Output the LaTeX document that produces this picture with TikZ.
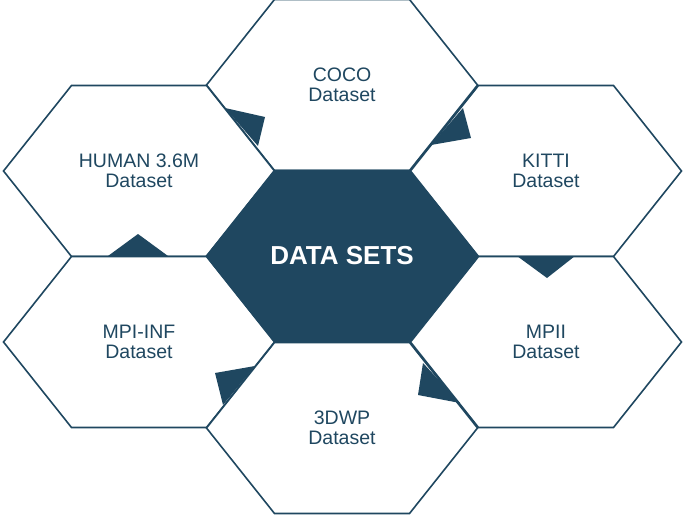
\documentclass[tikz,border=0pt]{standalone}
\usepackage{fontspec}
\setmainfont{Liberation Sans}
\definecolor{navy}{HTML}{1F4760}
\begin{document}
\begin{tikzpicture}[x=1pt,y=-1pt,
  hexb/.style={draw=navy,line width=1.6pt,fill=white},
  lab/.style={text=navy,font=\fontsize{19.5}{20}\selectfont,align=center},
  tri/.style={fill=navy}]
\useasboundingbox (0,0) rectangle (685,516);
\def\hex#1#2#3{\path[#3] (#1-135.5,#2) -- (#1-67.5,#2-85.5) -- (#1+67.5,#2-85.5) -- (#1+135.5,#2) -- (#1+67.5,#2+85.5) -- (#1-67.5,#2+85.5) -- cycle;}
\hex{342}{85}{hexb}
\hex{546}{171}{hexb}
\hex{139}{171}{hexb}
\hex{139}{342}{hexb}
\hex{546}{342}{hexb}
\hex{342}{428}{hexb}
\hex{342}{256}{fill=navy,draw=navy,line width=1.6pt}
\node[lab] (coco) at (342,85) {COCO\\Dataset};
\node[lab] (kitti) at (546,171) {KITTI\\Dataset};
\node[lab] (human) at (139,171) {HUMAN 3.6M\\Dataset};
\node[lab] (mpiinf) at (139,342) {MPI-INF\\Dataset};
\node[lab] (mpii) at (546,342) {MPII\\Dataset};
\node[lab] (dwp) at (342,428) {3DWP\\Dataset};
\node[text=white,font=\fontsize{26}{30}\selectfont\bfseries] (c) at (342,256) {DATA SETS};
\fill[tri] (225,108) -- (265,117) -- (258,146) -- cycle;
\fill[tri] (431,145) -- (471,138) -- (463,108) -- cycle;
\fill[tri] (108,256) -- (138,234) -- (168,256) -- cycle;
\fill[tri] (517,256) -- (547,278) -- (575,256) -- cycle;
\fill[tri] (215,373) -- (255,366) -- (223,405) -- cycle;
\fill[tri] (423,363) -- (418,395) -- (460,403) -- cycle;
\end{tikzpicture}
\end{document}
